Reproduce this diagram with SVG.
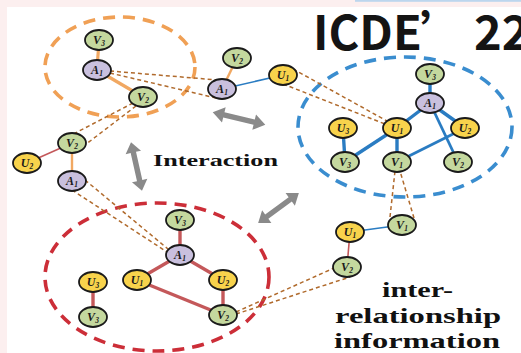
<svg xmlns="http://www.w3.org/2000/svg" width="521" height="353" viewBox="0 0 521 353">
  <style>
    .n ellipse { stroke: #1a1a1a; stroke-width: 1.8; }
    .v ellipse { fill: #c4d89e; }
    .a ellipse { fill: #c9c0de; }
    .u ellipse { fill: #f8d34c; }
    .n text { font-family: "Liberation Serif", "Times New Roman", serif; font-weight: bold; font-style: italic; font-size: 12px; fill: #1a1a1a; text-anchor: middle; }
    .n .s { font-size: 7.5px; }
    .dash { fill: none; stroke: #b06a2c; stroke-width: 1.5; stroke-dasharray: 4 3; }
    .eo { stroke: #f1a862; stroke-width: 3.2; }
    .eb { stroke: #2a7cc2; stroke-width: 3.4; }
    .er { stroke: #c4585a; stroke-width: 3.4; }
    .thin { stroke-width: 1.6; }
    .ring { fill: none; stroke-width: 3.6; stroke-dasharray: 12 8; }
    .lbl { font-family: "Liberation Serif", "Times New Roman", serif; font-weight: bold; fill: #111; text-anchor: middle; }
  </style>
  <defs>
    <path id="dbl" d="M-26,0 L-15,-7.5 L-15,-2.6 L15,-2.6 L15,-7.5 L26,0 L15,7.5 L15,2.6 L-15,2.6 L-15,7.5 Z" fill="#8a8a8a"/>
  </defs>

  <!-- page background with tinted margin -->
  <rect width="521" height="353" fill="#fcefef"/>
  <rect x="7" y="7" width="514" height="346" fill="#ffffff"/>
  <rect x="355" y="0" width="166" height="1.8" fill="#bcd6ee"/>

  <!-- community outlines -->
  <g id="clusters">
    <ellipse class="ring" cx="120" cy="67" rx="75" ry="50" stroke="#f0a055"/>
    <ellipse class="ring" cx="405" cy="127" rx="107" ry="70" stroke="#3a8dcf"/>
    <ellipse class="ring" cx="157" cy="277" rx="112" ry="74" stroke="#cc2e38"/>
  </g>

  <!-- edges and cross-network links -->
  <g id="connectors">
    <!-- orange community -->
    <line class="eo" x1="99" y1="40" x2="97" y2="70"/>
    <line class="eo" x1="97" y1="70" x2="143" y2="97"/>
    <!-- loose nodes, top -->
    <line class="eo" x1="222" y1="89" x2="237" y2="58" style="stroke-width:2.4"/>
    <line class="eb thin" x1="222" y1="89" x2="283" y2="75"/>
    <!-- loose nodes, left -->
    <line class="er thin" x1="27" y1="163" x2="72" y2="143"/>
    <line class="eo" x1="72" y1="143" x2="72" y2="181" style="stroke-width:2.4"/>
    <!-- blue community -->
    <line class="eb" x1="430" y1="74" x2="430" y2="103"/>
    <line class="eb" x1="430" y1="103" x2="397" y2="128"/>
    <line class="eb" x1="430" y1="103" x2="465" y2="128"/>
    <line class="eb" x1="430" y1="103" x2="458" y2="162" style="stroke-width:2.8"/>
    <line class="eb" x1="343" y1="128" x2="345" y2="162"/>
    <line class="eb" x1="397" y1="128" x2="345" y2="162"/>
    <line class="eb" x1="397" y1="128" x2="397" y2="162"/>
    <line class="eb" x1="397" y1="162" x2="465" y2="128" style="stroke-width:2.8"/>
    <!-- red community -->
    <line class="er" x1="180" y1="220" x2="180" y2="255"/>
    <line class="er" x1="180" y1="255" x2="137" y2="280"/>
    <line class="er" x1="180" y1="255" x2="223" y2="280"/>
    <line class="er" x1="223" y1="280" x2="223" y2="315"/>
    <line class="er" x1="137" y1="280" x2="223" y2="315"/>
    <line class="er" x1="93" y1="282" x2="93" y2="317"/>
    <!-- loose nodes, bottom right -->
    <line class="eb thin" x1="350" y1="232" x2="402" y2="225"/>
    <line class="er thin" x1="350" y1="232" x2="347" y2="267"/>
    <!-- dashed correspondence links -->
    <path class="dash" d="M110,71 L218,80 M110,73 L216,98"/>
    <path class="dash" d="M133,103 L60,141 M136,106 L85,145"/>
    <path class="dash" d="M72,190 L167,252 M85,180 L168,249"/>
    <path class="dash" d="M236,312 L334,268 M236,314 L350,277"/>
    <path class="dash" d="M390,217 L395,171 M414,218 L400,171"/>
    <path class="dash" d="M293,69 L387,121 M283,84 L385,124"/>
  </g>

  <!-- interaction arrows -->
  <g id="arrows">
    <use href="#dbl" transform="translate(239,118.5) rotate(13.5) scale(1.04,1.05)"/>
    <use href="#dbl" transform="translate(136.5,166.5) rotate(77.3) scale(0.96,1.05)"/>
    <use href="#dbl" transform="translate(278.5,208) rotate(-36.2) scale(0.97,1.05)"/>
  </g>

  <!-- orange community nodes -->
  <g id="o-v3" class="n v"><ellipse cx="99" cy="40" rx="14" ry="10"/><text x="99" y="44">V<tspan class="s" dy="2">3</tspan></text></g>
  <g id="o-a1" class="n a"><ellipse cx="97" cy="70" rx="14" ry="10"/><text x="97" y="74">A<tspan class="s" dy="2">1</tspan></text></g>
  <g id="o-v2" class="n v"><ellipse cx="143" cy="97" rx="14" ry="10"/><text x="143" y="101">V<tspan class="s" dy="2">2</tspan></text></g>

  <!-- loose nodes, top -->
  <g id="t-v2" class="n v"><ellipse cx="237" cy="58" rx="14" ry="10"/><text x="237" y="62">V<tspan class="s" dy="2">2</tspan></text></g>
  <g id="t-a1" class="n a"><ellipse cx="222" cy="89" rx="14" ry="10"/><text x="222" y="93">A<tspan class="s" dy="2">1</tspan></text></g>
  <g id="t-u1" class="n u"><ellipse cx="283" cy="75" rx="14" ry="10"/><text x="283" y="79">U<tspan class="s" dy="2">1</tspan></text></g>

  <!-- loose nodes, left -->
  <g id="l-v2" class="n v"><ellipse cx="72" cy="143" rx="14" ry="10"/><text x="72" y="147">V<tspan class="s" dy="2">2</tspan></text></g>
  <g id="l-u2" class="n u"><ellipse cx="27" cy="163" rx="14" ry="10"/><text x="27" y="167">U<tspan class="s" dy="2">2</tspan></text></g>
  <g id="l-a1" class="n a"><ellipse cx="72" cy="181" rx="14" ry="10"/><text x="72" y="185">A<tspan class="s" dy="2">1</tspan></text></g>

  <!-- blue community nodes -->
  <g id="b-v3" class="n v"><ellipse cx="430" cy="74" rx="14" ry="10"/><text x="430" y="78">V<tspan class="s" dy="2">3</tspan></text></g>
  <g id="b-a1" class="n a"><ellipse cx="430" cy="103" rx="14" ry="10"/><text x="430" y="107">A<tspan class="s" dy="2">1</tspan></text></g>
  <g id="b-u3" class="n u"><ellipse cx="343" cy="128" rx="14" ry="10"/><text x="343" y="132">U<tspan class="s" dy="2">3</tspan></text></g>
  <g id="b-u1" class="n u"><ellipse cx="397" cy="128" rx="14" ry="10"/><text x="397" y="132">U<tspan class="s" dy="2">1</tspan></text></g>
  <g id="b-u2" class="n u"><ellipse cx="465" cy="128" rx="14" ry="10"/><text x="465" y="132">U<tspan class="s" dy="2">2</tspan></text></g>
  <g id="b-v3b" class="n v"><ellipse cx="345" cy="162" rx="14" ry="10"/><text x="345" y="166">V<tspan class="s" dy="2">3</tspan></text></g>
  <g id="b-v1" class="n v"><ellipse cx="397" cy="162" rx="14" ry="10"/><text x="397" y="166">V<tspan class="s" dy="2">1</tspan></text></g>
  <g id="b-v2" class="n v"><ellipse cx="458" cy="162" rx="14" ry="10"/><text x="458" y="166">V<tspan class="s" dy="2">2</tspan></text></g>

  <!-- red community nodes -->
  <g id="r-v3" class="n v"><ellipse cx="180" cy="220" rx="14" ry="10"/><text x="180" y="224">V<tspan class="s" dy="2">3</tspan></text></g>
  <g id="r-a1" class="n a"><ellipse cx="180" cy="255" rx="14" ry="10"/><text x="180" y="259">A<tspan class="s" dy="2">1</tspan></text></g>
  <g id="r-u1" class="n u"><ellipse cx="137" cy="280" rx="14" ry="10"/><text x="137" y="284">U<tspan class="s" dy="2">1</tspan></text></g>
  <g id="r-u2" class="n u"><ellipse cx="223" cy="280" rx="14" ry="10"/><text x="223" y="284">U<tspan class="s" dy="2">2</tspan></text></g>
  <g id="r-v2" class="n v"><ellipse cx="223" cy="315" rx="14" ry="10"/><text x="223" y="319">V<tspan class="s" dy="2">2</tspan></text></g>
  <g id="r-u3" class="n u"><ellipse cx="93" cy="282" rx="14" ry="10"/><text x="93" y="286">U<tspan class="s" dy="2">3</tspan></text></g>
  <g id="r-v3b" class="n v"><ellipse cx="93" cy="317" rx="14" ry="10"/><text x="93" y="321">V<tspan class="s" dy="2">3</tspan></text></g>

  <!-- loose nodes, bottom right -->
  <g id="br-u1" class="n u"><ellipse cx="350" cy="232" rx="14" ry="10"/><text x="350" y="236">U<tspan class="s" dy="2">1</tspan></text></g>
  <g id="br-v1" class="n v"><ellipse cx="402" cy="225" rx="14" ry="10"/><text x="402" y="229">V<tspan class="s" dy="2">1</tspan></text></g>
  <g id="br-v2" class="n v"><ellipse cx="347" cy="267" rx="14" ry="10"/><text x="347" y="271">V<tspan class="s" dy="2">2</tspan></text></g>

  <!-- captions -->
  <text class="lbl" x="215.5" y="166" font-size="17" textLength="125" lengthAdjust="spacingAndGlyphs">Interaction</text>
  <text class="lbl" x="417.5" y="297" font-size="22" textLength="71" lengthAdjust="spacingAndGlyphs">inter-</text>
  <text class="lbl" x="418" y="323" font-size="22" textLength="166" lengthAdjust="spacingAndGlyphs">relationship</text>
  <text class="lbl" x="417" y="348" font-size="22" textLength="166" lengthAdjust="spacingAndGlyphs">information</text>

  <!-- venue tag -->
  <g id="venue" font-family="'Noto Sans CJK SC', 'Noto Sans', sans-serif" font-weight="bold" font-size="47" fill="#141414">
    <text x="313" y="50">ICDE</text>
    <text x="420" y="50">’</text>
    <text x="474" y="50">22</text>
  </g>
</svg>
